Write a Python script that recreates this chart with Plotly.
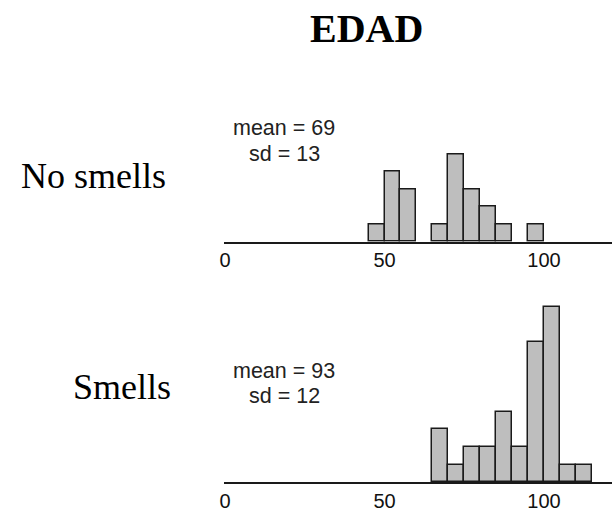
import plotly.graph_objects as go

# ---- data ----
bin_width = 5
no_smells_bin_starts = [45, 50, 55, 65, 70, 75, 80, 85, 95]
no_smells_counts = [1, 4, 3, 1, 5, 3, 2, 1, 1]
smells_bin_starts = [65, 70, 75, 80, 85, 90, 95, 100, 105, 110]
smells_counts = [3, 1, 2, 2, 4, 2, 8, 10, 1, 1]
tick_vals = [0, 50, 100]
tick_text = ["0", "50", "100"]
title_text = "EDAD"
row_labels = ["No smells", "Smells"]
stats_no_smells = ["mean = 69", "sd = 13"]
stats_smells = ["mean = 93", "sd = 12"]

W, H = 612, 511


def py(p):
    return 1 - p / H


def pxx(p):
    return p / W


fig = go.Figure()
bar_style = dict(marker=dict(color="#bebebe", line=dict(color="#1a1a1a", width=1.5)),
                 width=bin_width, showlegend=False, hoverinfo="skip")
fig.add_trace(go.Bar(x=[s + bin_width / 2 for s in no_smells_bin_starts], y=no_smells_counts,
                     xaxis="x", yaxis="y", **bar_style))
fig.add_trace(go.Bar(x=[s + bin_width / 2 for s in smells_bin_starts], y=smells_counts,
                     xaxis="x2", yaxis="y2", **bar_style))

x_left_px = 224
x_range = [(x_left_px - 225) / 3.19, (W - 225) / 3.19]
xcommon = dict(range=x_range, domain=[pxx(x_left_px), 1], showgrid=False, zeroline=False,
               showline=True, linecolor="#1a1a1a", linewidth=1.5, ticks="",
               tickvals=tick_vals, ticktext=tick_text,
               tickfont=dict(family="Liberation Sans, Arial", size=20, color="#111"),
               automargin=False, fixedrange=True)
ycommon = dict(showgrid=False, zeroline=False, showline=False, showticklabels=False,
               ticks="", automargin=False, fixedrange=True)

top_base, bot_base, unit = 241.7, 482.0, 17.55
fig.update_layout(
    width=W, height=H, margin=dict(l=0, r=0, t=0, b=0),
    paper_bgcolor="white", plot_bgcolor="white", bargap=0,
    xaxis=dict(anchor="y", **xcommon),
    xaxis2=dict(anchor="y2", **xcommon),
    yaxis=dict(anchor="x", range=[0, 6], domain=[py(top_base), py(top_base - 6 * unit)], **ycommon),
    yaxis2=dict(anchor="x2", range=[0, 11], domain=[py(bot_base), py(bot_base - 11 * unit)], **ycommon),
)

serif = "Liberation Serif, Times New Roman"
ann = []
ann.append(dict(text="<b>" + title_text + "</b>", x=pxx(366), y=py(29), xref="paper", yref="paper",
                showarrow=False, xanchor="center", yanchor="middle",
                font=dict(family=serif, size=40, color="black")))
ann.append(dict(text=row_labels[0], x=pxx(168), y=py(176), xref="paper", yref="paper",
                showarrow=False, xanchor="right", yanchor="middle",
                font=dict(family=serif, size=36, color="black")))
ann.append(dict(text=row_labels[1], x=pxx(173), y=py(387), xref="paper", yref="paper",
                showarrow=False, xanchor="right", yanchor="middle",
                font=dict(family=serif, size=36, color="black")))
stat_font = dict(family="Liberation Sans, Arial", size=21.5, color="#222")
for txt, yc in zip(stats_no_smells, [128, 154]):
    ann.append(dict(text=txt, x=pxx(284), y=py(yc), xref="paper", yref="paper", showarrow=False,
                    xanchor="center", yanchor="middle", font=stat_font))
for txt, yc in zip(stats_smells, [371, 396]):
    ann.append(dict(text=txt, x=pxx(284), y=py(yc), xref="paper", yref="paper", showarrow=False,
                    xanchor="center", yanchor="middle", font=stat_font))
fig.update_layout(annotations=ann)

fig.write_html("out.html", config={"displayModeBar": False},
               post_script="document.body.style.margin='0';document.body.style.overflow='hidden';")
